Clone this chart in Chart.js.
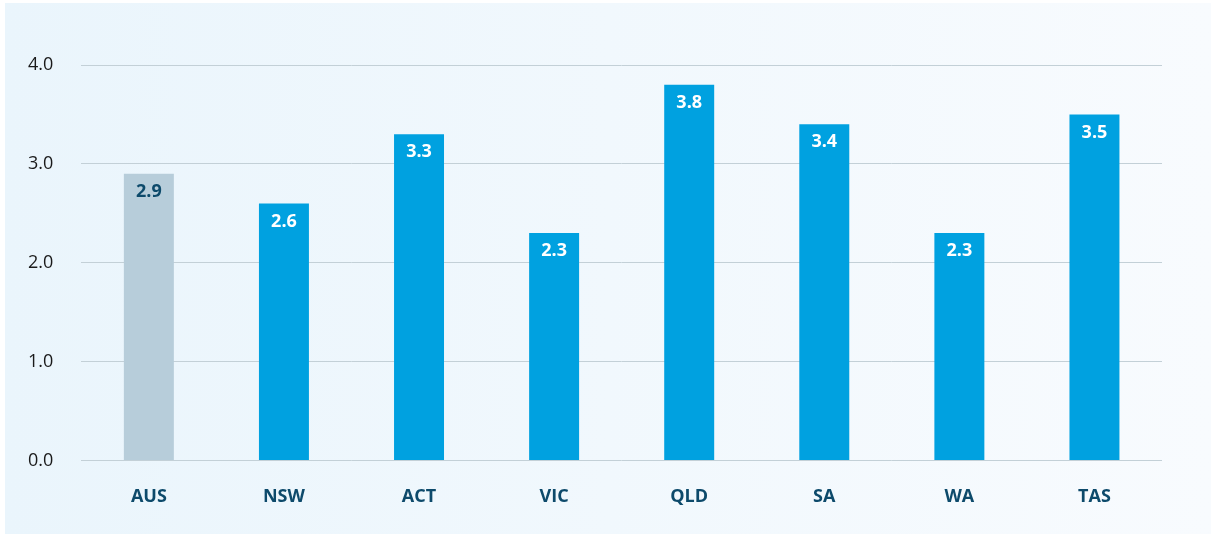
<!DOCTYPE html>
<html>
<head>
<meta charset="utf-8">
<script src="https://cdn.jsdelivr.net/npm/chart.js@4.4.0/dist/chart.umd.min.js"></script>
<style>
  html, body { margin: 0; padding: 0; background: #ffffff; overflow: hidden; }
  #panel {
    position: absolute; left: 5px; top: 3px; width: 1206px; height: 531px;
    background: linear-gradient(to right, #eaf5fc, #f8fbfe);
  }
  #wrap { position: absolute; left: 0; top: 0; width: 1211px; height: 537px; }
</style>
</head>
<body>
<div id="panel"></div>
<div id="wrap"><canvas id="chart"></canvas></div>
<script>
var regions = ["AUS", "NSW", "ACT", "VIC", "QLD", "SA", "WA", "TAS"];
var rates = [2.9, 2.6, 3.3, 2.3, 3.8, 3.4, 2.3, 3.5];
var barColours = ["#b7cdda", "#00a1e0", "#00a1e0", "#00a1e0", "#00a1e0", "#00a1e0", "#00a1e0", "#00a1e0"];
var labelColours = ["#0d4a6b", "#ffffff", "#ffffff", "#ffffff", "#ffffff", "#ffffff", "#ffffff", "#ffffff"];

// draws the value just inside the top of each bar
var barLabels = {
  id: 'barLabels',
  afterDatasetsDraw: function(chart) {
    var ctx = chart.ctx;
    var meta = chart.getDatasetMeta(0);
    ctx.save();
    ctx.font = "bold 18px 'Open Sans'";
    ctx.textAlign = 'center';
    ctx.textBaseline = 'middle';
    meta.data.forEach(function(bar, i) {
      ctx.fillStyle = labelColours[i];
      ctx.fillText(rates[i].toFixed(1), bar.x, bar.y + 18);
    });
    ctx.restore();
  }
};

var ctx = document.getElementById("chart").getContext('2d');
var myChart = new Chart(ctx, {
  type: 'bar',
  data: {
    labels: regions,
    datasets: [{
      data: rates,
      backgroundColor: barColours,
      borderWidth: 0,
      categoryPercentage: 1.0,
      barPercentage: 0.37
    }]
  },
  options: {
    responsive: true,
    maintainAspectRatio: false,
    animation: false,
    layout: { padding: { left: 0, right: 49, top: 65, bottom: 11 } },
    plugins: { legend: { display: false }, tooltip: { enabled: false } },
    scales: {
      x: {
        grid: { display: false },
        border: { display: false },
        ticks: {
          color: '#0d4a6b',
          padding: 18,
          font: { family: 'Open Sans', size: 18, weight: 'bold' }
        }
      },
      y: {
        min: 0,
        max: 4,
        grid: { color: '#c3d0d7', drawTicks: false, lineWidth: 1 },
        border: { display: false },
        ticks: {
          stepSize: 1,
          color: '#1a1a1a',
          padding: 28,
          font: { family: 'Open Sans', size: 18 },
          callback: function(v) { return v.toFixed(1); }
        }
      }
    }
  },
  plugins: [barLabels]
});
</script>
</body>
</html>
